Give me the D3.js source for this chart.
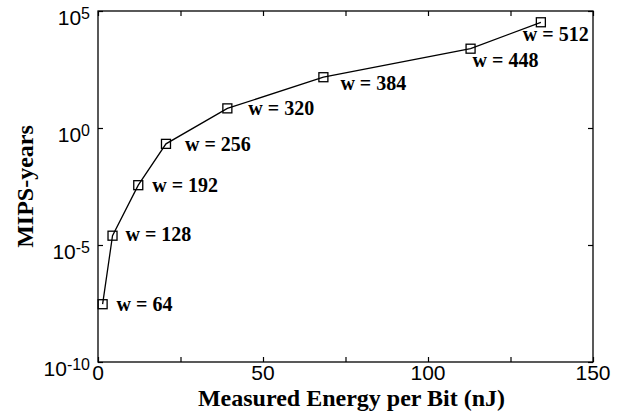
<!DOCTYPE html>
<html>
<head>
<meta charset="utf-8">
<script src="https://cdn.jsdelivr.net/npm/d3@7"></script>
<style>
  body { margin: 0; background: #fff; }
  svg { display: block; }
  .tick-label { font-family: "Liberation Sans", Arial, sans-serif; font-size: 21px; fill: #000; }
  .title { font-family: "Liberation Serif", "Times New Roman", serif; font-weight: bold; font-size: 24px; fill: #000; }
  .point-label { font-family: "Liberation Serif", "Times New Roman", serif; font-weight: bold; font-size: 20px; fill: #000; }
</style>
</head>
<body>
<svg id="chart" width="624" height="414"></svg>
<script>
// word widths (w) and measured values
const widths = [64, 128, 192, 256, 320, 384, 448, 512];
const energyNJ = [1.4, 4.4, 12.2, 20.6, 39.2, 68.3, 112.9, 134.2];
const mipsYears = [2.95e-8, 2.5e-5, 3.6e-3, 0.21, 6.9, 148, 2450, 33000];

const xTickValues = [0, 50, 100, 150];
const xMinorTicks = [25, 75, 125];
const yTickExponents = [-10, -5, 0, 5];

// label placement relative to the marker (px)
const labelOffsets = [
  [14, 0], [13, -2], [14, 0], [19, 0], [21, 0], [17, 6], [2, 11], [-18, 12]
];

const margin = { left: 98, right: 31, top: 11, bottom: 52 };
const W = 624, H = 414;
const plotW = W - margin.left - margin.right;
const plotH = H - margin.top - margin.bottom;

const svg = d3.select('#chart');
const g = svg.append('g').attr('transform', `translate(${margin.left},${margin.top})`);

const x = d3.scaleLinear().domain([0, 150]).range([0, plotW]);
const y = d3.scaleLog().domain([1e-10, 1e5]).range([plotH, 0]);

const tickLen = 5;
const allX = xTickValues.concat(xMinorTicks);
const yTicks = yTickExponents.map(e => Math.pow(10, e));

// box
g.append('rect')
  .attr('width', plotW)
  .attr('height', plotH)
  .attr('fill', 'none')
  .attr('stroke', '#000')
  .attr('stroke-width', 1.3);

// inward ticks on all four sides
const bottomAxis = d3.axisBottom(x).tickValues(allX).tickSize(-tickLen).tickFormat('');
const topAxis = d3.axisTop(x).tickValues(allX).tickSize(-tickLen).tickFormat('');
const leftAxis = d3.axisLeft(y).tickValues(yTicks).tickSize(-tickLen).tickFormat('');
const rightAxis = d3.axisRight(y).tickValues(yTicks).tickSize(-tickLen).tickFormat('');

[[bottomAxis, `translate(0,${plotH})`], [topAxis, 'translate(0,0)'],
 [leftAxis, 'translate(0,0)'], [rightAxis, `translate(${plotW},0)`]].forEach(([ax, tr]) => {
  const a = g.append('g').attr('transform', tr).call(ax);
  a.select('.domain').remove();
  a.selectAll('line').attr('stroke', '#000').attr('stroke-width', 1.2);
});

// x tick labels
g.selectAll('.xlab')
  .data(xTickValues)
  .join('text')
  .attr('class', 'tick-label')
  .attr('x', d => x(d))
  .attr('y', plotH + 18)
  .attr('text-anchor', 'middle')
  .text(d => d);

// y tick labels with superscript exponent
const ylab = g.selectAll('.ylab')
  .data(yTickExponents)
  .join('text')
  .attr('class', 'tick-label')
  .attr('x', -8)
  .attr('y', d => y(Math.pow(10, d)) + 14)
  .attr('text-anchor', 'end');
ylab.append('tspan').text('10');
ylab.append('tspan')
  .attr('dy', -6)
  .attr('font-size', '16px')
  .text(d => d);

// line + markers
const pts = widths.map((w, i) => ({ w, e: energyNJ[i], m: mipsYears[i], off: labelOffsets[i] }));

g.append('path')
  .datum(pts)
  .attr('fill', 'none')
  .attr('stroke', '#000')
  .attr('stroke-width', 1.3)
  .attr('d', d3.line().x(d => x(d.e)).y(d => y(d.m)));

const ms = 9;
g.selectAll('.marker')
  .data(pts)
  .join('rect')
  .attr('x', d => x(d.e) - ms / 2)
  .attr('y', d => y(d.m) - ms / 2)
  .attr('width', ms)
  .attr('height', ms)
  .attr('fill', 'none')
  .attr('stroke', '#000')
  .attr('stroke-width', 1.3);

g.selectAll('.point-label')
  .data(pts)
  .join('text')
  .attr('class', 'point-label')
  .attr('x', d => x(d.e) + d.off[0])
  .attr('y', d => y(d.m) + d.off[1] + 7)
  .text(d => `w = ${d.w}`);

// axis titles
svg.append('text')
  .attr('class', 'title')
  .attr('x', margin.left + plotW / 2 + 6)
  .attr('y', 406)
  .attr('text-anchor', 'middle')
  .text('Measured Energy per Bit (nJ)');

svg.append('text')
  .attr('class', 'title')
  .attr('transform', `translate(33,${margin.top + plotH / 2}) rotate(-90)`)
  .attr('text-anchor', 'middle')
  .text('MIPS-years');
</script>
</body>
</html>
